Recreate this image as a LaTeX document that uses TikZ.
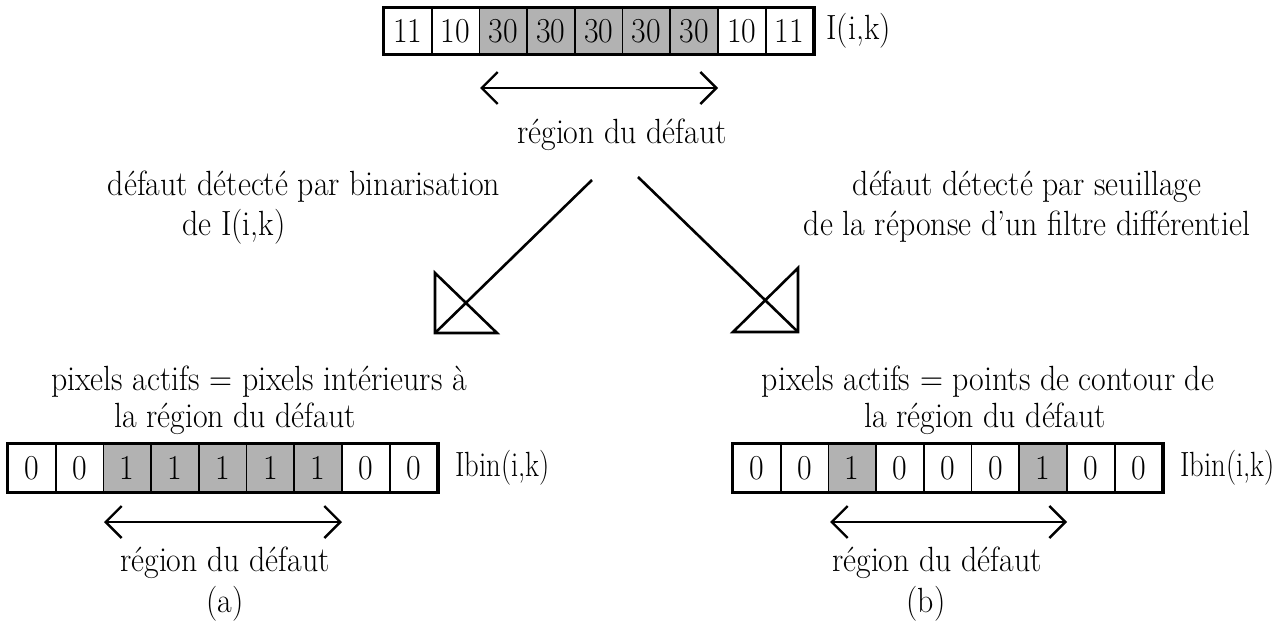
\documentclass[tikz,border=0pt]{standalone}
\usepackage{fontspec}
\setmainfont{Latin Modern Roman}[FakeStretch=0.91]
\usetikzlibrary{arrows.meta}
\begin{document}
\begin{tikzpicture}[x=0.5pt,y=-0.5pt,
  every node/.style={font=\fontsize{17.5}{20}\selectfont, inner sep=0pt},
  cell/.style={draw, line width=0.9pt, minimum width=23.85pt, minimum height=24pt, inner sep=0pt},
  hot/.style={cell, fill=black!30},
  frame/.style={draw, line width=1.4pt},
  ln/.style={line width=1.3pt},
  dbl/.style={line width=1.2pt, {Straight Barb[length=8pt,width=16pt]}-{Straight Barb[length=8pt,width=16pt]}}
]
\useasboundingbox (0,0) rectangle (1281,637);

% top array
\foreach \v/\s [count=\i] in {11/cell,10/cell,30/hot,30/hot,30/hot,30/hot,30/hot,10/cell,11/cell}
  {\node[\s, minimum height=23pt] (t\i) at ({384+(\i-0.5)*47.7},31) {\v};}
\draw[frame] (t1.north west) rectangle (t9.south east);
\node[anchor=west] (tlab) at (826,31) {I(i,k)};
\coordinate (ta1) at (480,88);
\coordinate (ta2) at (718,88);
\draw[dbl] (ta1) -- (ta2);
\node (treg) at (622,135) {région du défaut};

% side texts
\node (lt1) at (304,187) {défaut détecté par binarisation};
\node[anchor=west] (lt2) at (182,227) {de I(i,k)};
\node (rt1) at (1027,187) {défaut détecté par seuillage};
\node (rt2) at (1027,227) {de la réponse d'un filtre différentiel};

% left big arrow
\coordinate (ls) at (592,180);
\coordinate (lc) at (435,333);
\coordinate (lv) at (435,273);
\coordinate (lh) at (497,333);
\draw[ln] (ls) -- (lc);
\draw[ln, line join=miter] (lv) -- (lc) -- (lh) -- cycle;

% right big arrow
\coordinate (rs) at (638,177);
\coordinate (rc) at (798,332);
\coordinate (rv) at (798,268);
\coordinate (rh) at (733,332);
\draw[ln] (rs) -- (rc);
\draw[ln, line join=miter] (rv) -- (rc) -- (rh) -- cycle;

% bottom left
\node (bl1) at (259,382) {pixels actifs = pixels intérieurs à};
\node (bl2) at (235,419) {la région du défaut};
\foreach \v/\s [count=\i] in {0/cell,0/cell,1/hot,1/hot,1/hot,1/hot,1/hot,0/cell,0/cell}
  {\node[\s] (l\i) at ({8+(\i-0.5)*47.7},468) {\v};}
\draw[frame] (l1.north west) rectangle (l9.south east);
\node[anchor=west] (llab) at (455,468) {\scalebox{0.9}[1]{Ibin(i,k)}};
\coordinate (la1) at (104,522);
\coordinate (la2) at (342,522);
\draw[dbl] (la1) -- (la2);
\node (lreg) at (225,563) {région du défaut};
\node (la) at (225,604) {(a)};

% bottom right
\node (br1) at (988,382) {pixels actifs = points de contour de};
\node (br2) at (985,419) {la région du défaut};
\foreach \v/\s [count=\i] in {0/cell,0/cell,1/hot,0/cell,0/cell,0/cell,1/hot,0/cell,0/cell}
  {\node[\s] (r\i) at ({733+(\i-0.5)*47.7},468) {\v};}
\draw[frame] (r1.north west) rectangle (r9.south east);
\node[anchor=east] (rlab) at (1275,468) {\scalebox{0.9}[1]{Ibin(i,k)}};
\coordinate (ra1) at (830,522);
\coordinate (ra2) at (1067,522);
\draw[dbl] (ra1) -- (ra2);
\node (rreg) at (937,563) {région du défaut};
\node (rb) at (926,604) {(b)};
\end{tikzpicture}
\end{document}
